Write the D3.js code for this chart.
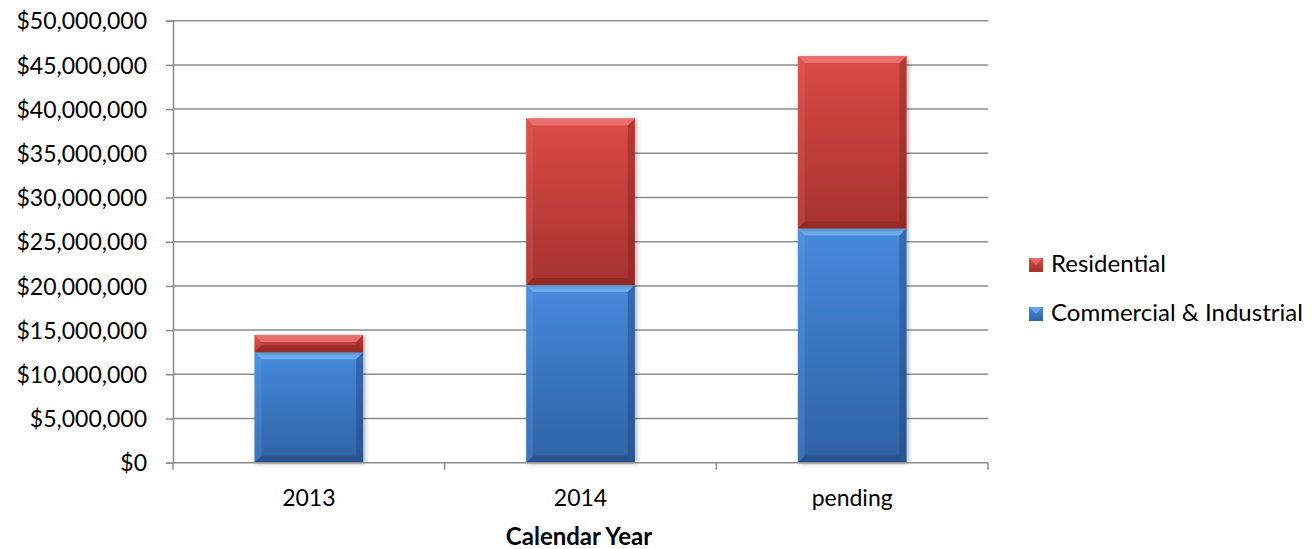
<!DOCTYPE html>
<html><head><meta charset="utf-8">
<script src="https://cdn.jsdelivr.net/npm/d3@7"></script>
<style>body{margin:0;background:#fff}svg{display:block}text{font-family:Lato,"Open Sans",sans-serif;fill:#000}</style>
</head><body>
<svg id="c" width="1316" height="549"></svg>
<script>
const categories = ["2013", "2014", "pending"];
const commercial = [12500000, 20100000, 26500000];
const residential = [1950000, 18850000, 19500000];
const seriesNames = ["Commercial & Industrial", "Residential"];
const yTicks = [0,5000000,10000000,15000000,20000000,25000000,30000000,35000000,40000000,45000000,50000000];

const svg = d3.select("#c");
const L=173,R=988,T=20.7,B=462.7;
const x = d3.scaleBand().domain(categories).range([L,R]).paddingInner(0.6).paddingOuter(0.3);
const y = d3.scaleLinear().domain([0,50000000]).range([B,T]);
const defs = svg.append("defs");
const pal = {
  "Residential":{top:"#dc4a46",mid:"#d3433f",bot:"#a6322e",hi:"#ec7a76",dk:"#7e1e1b"},
  "Commercial & Industrial":{top:"#4689dc",mid:"#3d7ccc",bot:"#2f62a6",hi:"#74b6f3",dk:"#1f3f70"}
};
Object.entries(pal).forEach(([k,c],i)=>{
  const g=defs.append("linearGradient").attr("id","g"+i).attr("x1",0).attr("y1",0).attr("x2",0).attr("y2",1);
  g.append("stop").attr("offset","0%").attr("stop-color",c.top);
  g.append("stop").attr("offset","100%").attr("stop-color",c.bot);
  c.id="g"+i;
});
const f=defs.append("filter").attr("id","sh").attr("x","-10%").attr("y","-10%").attr("width","130%").attr("height","130%");
f.append("feDropShadow").attr("dx",2).attr("dy",1).attr("stdDeviation",2).attr("flood-color","#000").attr("flood-opacity",0.3);

// gridlines
svg.append("g").selectAll("line").data(yTicks.slice(1)).join("line")
  .attr("x1",L).attr("x2",R).attr("y1",d=>y(d)).attr("y2",d=>y(d))
  .attr("stroke","#8c8c8c").attr("stroke-width",1.5);

// y axis
const ya = svg.append("g").attr("transform",`translate(${L},0)`)
  .call(d3.axisLeft(y).tickValues(yTicks).tickSize(7).tickPadding(19).tickFormat(d=>"$"+d3.format(",")(d)));
ya.select(".domain").attr("stroke","#8c8c8c").attr("stroke-width",1.5);
ya.selectAll(".tick line").attr("stroke","#8c8c8c").attr("stroke-width",1.5);
ya.selectAll("text").style("font-size","23px").attr("dy","0.36em");

// stacked
const rows = categories.map((c,i)=>({cat:c,"Commercial & Industrial":commercial[i],"Residential":residential[i]}));
const stack = d3.stack().keys(seriesNames)(rows);
const bw = x.bandwidth(), bv=7;
stack.forEach(layer=>{
  const c = pal[layer.key];
  const g = svg.append("g");
  layer.forEach(d=>{
    const x0=x(d.data.cat), x1=x0+bw, y0=y(d[1]), y1=y(d[0]);
    const bg=g.append("g").attr("filter","url(#sh)");
    bg.append("rect").attr("x",x0).attr("y",y0).attr("width",bw).attr("height",y1-y0).attr("fill",`url(#${c.id})`);
    const b=Math.min(bv,(y1-y0)/2);
    g.append("polygon").attr("points",`${x0},${y0} ${x1},${y0} ${x1-b},${y0+b} ${x0+b},${y0+b}`).attr("fill",c.hi).attr("opacity",0.8);
    g.append("polygon").attr("points",`${x0},${y1} ${x1},${y1} ${x1-b},${y1-b} ${x0+b},${y1-b}`).attr("fill",c.dk).attr("opacity",0.45);
    g.append("polygon").attr("points",`${x0},${y0} ${x0+b},${y0+b} ${x0+b},${y1-b} ${x0},${y1}`).attr("fill",c.hi).attr("opacity",0.2);
    g.append("polygon").attr("points",`${x1},${y0} ${x1-b},${y0+b} ${x1-b},${y1-b} ${x1},${y1}`).attr("fill",c.dk).attr("opacity",0.4);
  });
});

// x axis
const xa = svg.append("g").attr("transform",`translate(0,${B})`);
xa.append("line").attr("x1",L).attr("x2",R).attr("stroke","#8c8c8c").attr("stroke-width",1.5);
const step=(R-L)/categories.length;
xa.selectAll("line.t").data(d3.range(categories.length+1)).join("line").attr("class","t")
  .attr("x1",i=>L+i*step).attr("x2",i=>L+i*step).attr("y1",0).attr("y2",7).attr("stroke","#8c8c8c").attr("stroke-width",1.5);
xa.selectAll("text").data(categories).join("text").attr("x",d=>x(d)+bw/2).attr("y",43)
  .attr("text-anchor","middle").style("font-size","23px").text(d=>d);
svg.append("text").attr("x",579).attr("y",545).attr("text-anchor","middle").style("font-size","24px").style("font-weight","bold").text("Calendar Year");

// legend
const leg = svg.append("g");
[["Residential",272],["Commercial & Industrial",321]].forEach(([k,yy])=>{
  const c=pal[k];
  leg.append("rect").attr("x",1029).attr("y",yy-14).attr("width",14).attr("height",14).attr("fill",`url(#${c.id})`);
  leg.append("polygon").attr("points",`${1029},${yy-14} ${1043},${yy-14} ${1036},${yy-7}`).attr("fill",c.hi).attr("opacity",0.7);
  leg.append("text").attr("x",1051).attr("y",yy).style("font-size","24px").text(k);
});
</script>
</body></html>
